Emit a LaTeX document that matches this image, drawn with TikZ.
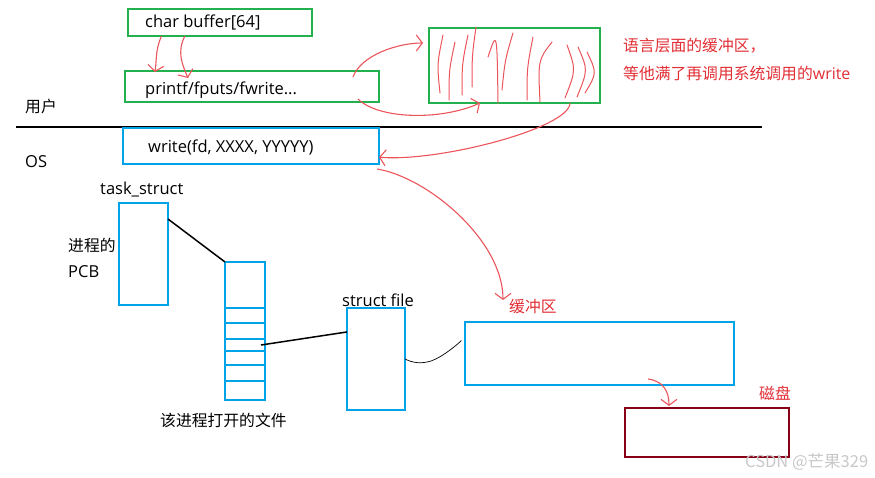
\documentclass[tikz,border=0pt]{standalone}
\usepackage{fontspec}
\setmainfont{Open Sans}
\newfontfamily\cjk{Noto Sans CJK SC}
\usetikzlibrary{arrows.meta,calc}

\definecolor{boxgreen}{RGB}{34,177,76}
\definecolor{boxblue}{RGB}{0,162,232}
\definecolor{penred}{RGB}{236,84,92}
\definecolor{txtred}{RGB}{226,46,52}
\definecolor{diskred}{RGB}{136,0,21}
\definecolor{markgray}{RGB}{200,200,200}

\tikzset{
  box/.style={draw, line width=2pt, inner sep=0pt, outer sep=0pt},
  gbox/.style={box, draw=boxgreen},
  bbox/.style={box, draw=boxblue},
  lbl/.style={anchor=west, inner sep=0pt, font=\fontsize{16.5}{19}\selectfont},
  clbl/.style={anchor=west, inner sep=0pt, font=\fontsize{15.8}{18}\selectfont\cjk},
  rlbl/.style={clbl, text=txtred},
  pen/.style={penred, line width=1.1pt, -{Straight Barb[length=6pt,width=16pt]}},
  scrib/.style={penred, line width=1pt, line cap=round},
}

\begin{document}
\begin{tikzpicture}[x=1pt, y=-1pt]
  \useasboundingbox (0,0) rectangle (875,477);

  % Lado do usuario
  \node at (220,22.5) (buf) [gbox, minimum width=184pt, minimum height=27pt] {};
  \node at (145,22) (buftxt) [lbl] {char buffer[64]};
  \node at (252,86.5) (prt) [gbox, minimum width=254pt, minimum height=31pt] {};
  \node at (145,90) (prttxt) [lbl] {printf/fputs/fwrite...};
  \node at (514.5,65.5) (lbuf) [gbox, minimum width=171pt, minimum height=75pt] {};
  \node at (623,46) (note1) [rlbl] {语言层面的缓冲区，};
  \node at (623,73) (note2) [rlbl] {等他满了再调用系统调用的{\rmfamily\fontsize{16}{18}\selectfont write}};
  \node at (25,107) (user) [clbl] {用户};

  % Linha divisoria
  \coordinate (sepL) at (16,127);
  \coordinate (sepR) at (762,127);
  \draw[line width=1.8pt] (sepL) -- (sepR);

  % Lado do SO
  \node at (25,162) (os) [lbl] {OS};
  \node at (251,146) (wr) [bbox, minimum width=256pt, minimum height=36pt] {};
  \node at (148,147) (wrtxt) [lbl] {write(fd, XXXX, YYYYY)};

  \node at (100,189) (tasktxt) [lbl] {task\_struct};
  \node at (143.5,254) (pcb) [bbox, minimum width=49pt, minimum height=102pt] {};
  \node at (68,245) (pcbtxt1) [clbl] {进程的};
  \node at (68,272) (pcbtxt2) [lbl] {PCB};

  \node at (245,331) (fdt) [bbox, minimum width=40pt, minimum height=138pt] {};
  \foreach \y in {308,323,339,351,365,381} {
    \draw[boxblue, line width=2pt] (225,\y) -- (265,\y);
  }
  \node at (160,420) (fdttxt) [clbl] {该进程打开的文件};
  \coordinate (slot) at (261,345);

  \node at (342,300) (sfiletxt) [lbl] {struct file};
  \node at (376,359) (sfile) [bbox, minimum width=58pt, minimum height=102pt] {};

  \node at (599.5,353.5) (kbuf) [bbox, minimum width=269pt, minimum height=63pt] {};
  \node at (509,307) (kbuftxt) [rlbl] {缓冲区};
  \node at (707,432.5) (disk) [box, draw=diskred, minimum width=164pt, minimum height=49pt] {};
  \node at (759,393) (disktxt) [rlbl] {磁盘};

  \node at (745,462) (mark) [clbl, text=markgray, font=\fontsize{16.5}{18}\selectfont\cjk] {CSDN @芒果329};

  % Ligacoes pretas
  \draw[line width=1.5pt] (pcb.55) -- (fdt.north west);
  \draw[line width=1.5pt] (slot) -- (sfile.137);
  \draw[line width=0.7pt, shorten >=5pt] (sfile.east) .. controls +(8,4) and +(-10,3) .. ($(sfile.east)+(26,2)$)
    .. controls +(12,-4) and +(-6,6) .. (kbuf.173);

  % Setas vermelhas
  \draw[pen] (buf.193) .. controls +(-6,14) and +(2,-16) .. ($(prt.north west)+(30,1)$);
  \draw[pen] (buf.201) .. controls +(-8,16) and +(-6,-14) .. ($(prt.north west)+(63,7)$);
  \draw[pen] ($(prt.north east)+(-26,6)$) .. controls +(8,-22) and +(-25,0) .. ($(lbuf.north west)+(-6,15)$);
  \draw[pen] ($(prt.south east)+(-21,-3)$) .. controls +(20,20) and +(-40,18) .. ($(lbuf.south west)+(51,0)$);
  \draw[pen] ($(lbuf.south west)+(141,0)$) .. controls +(0,25) and +(60,5) .. (wr.-5);
  \draw[pen] ($(wr.south east)+(-2,5)$) .. controls +(50,8) and +(0,-60) .. ($(kbuf.north west)+(38,-22)$);
  \draw[pen] ($(kbuf.south west)+(183,-6)$) .. controls +(15,2) and +(0,-15) .. ($(disk.north west)+(44,-2)$);

  % Rabiscos do buffer
  \foreach \xa/\ya/\xb/\yb/\xc/\yc in {443/35/437/64/440/93, 455/42/449/70/449/100,
      468/35/462/64/462/95, 476/27/472/56/472/87, 488/57/497/30/498/103,
      513/33/505/60/502/90, 533/37/527/68/527/100, 552/42/538/60/540/102,
      567/45/576/70/565/98, 578/47/588/70/577/97, 587/52/597/73/585/93} {
    \draw[scrib] (\xa,\ya) .. controls (\xb,\yb) .. (\xc,\yc);
  }
\end{tikzpicture}
\end{document}
